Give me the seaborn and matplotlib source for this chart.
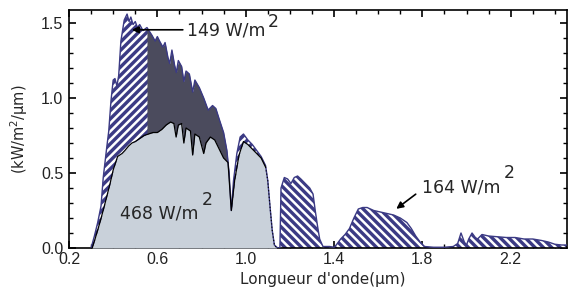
import numpy as np
import matplotlib
matplotlib.use("Agg")
import matplotlib.pyplot as plt
from matplotlib.ticker import MultipleLocator
import seaborn as sns

# ---------------- data ----------------
wl_top = [0.300, 0.315, 0.330, 0.345, 0.355, 0.370, 0.380, 0.390, 0.400, 0.408,
          0.417, 0.425, 0.435, 0.450, 0.463, 0.472, 0.480, 0.490, 0.500, 0.510,
          0.520, 0.535, 0.553, 0.575, 0.590, 0.600, 0.610, 0.625, 0.635, 0.648,
          0.656, 0.666, 0.678, 0.686, 0.695, 0.710, 0.720, 0.730, 0.745, 0.760,
          0.770, 0.790, 0.810, 0.830, 0.850, 0.865, 0.880, 0.900, 0.915, 0.925,
          0.935, 0.945, 0.960, 0.975, 0.990, 1.010, 1.030, 1.050, 1.070, 1.090,
          1.100, 1.110, 1.120, 1.130, 1.145, 1.155, 1.160, 1.175, 1.190, 1.205,
          1.220, 1.235, 1.250, 1.270, 1.290, 1.305, 1.315, 1.325, 1.335, 1.350,
          1.380, 1.400, 1.410, 1.430, 1.450, 1.470, 1.490, 1.510, 1.530, 1.550,
          1.580, 1.610, 1.640, 1.670, 1.700, 1.730, 1.750, 1.770, 1.790, 1.810,
          1.850, 1.900, 1.940, 1.960, 1.975, 1.990, 2.000, 2.010, 2.025, 2.040,
          2.050, 2.070, 2.100, 2.140, 2.180, 2.220, 2.260, 2.300, 2.340, 2.370,
          2.400, 2.430, 2.460]
irr_top = [0.00, 0.08, 0.17, 0.28, 0.47, 0.66, 0.78, 0.98, 1.12, 1.13,
           1.08, 1.15, 1.38, 1.52, 1.56, 1.51, 1.54, 1.49, 1.51, 1.47,
           1.49, 1.45, 1.47, 1.42, 1.38, 1.41, 1.38, 1.34, 1.37, 1.27,
           1.23, 1.32, 1.22, 1.17, 1.25, 1.21, 1.11, 1.18, 1.16, 1.04,
           1.12, 1.07, 1.00, 0.92, 0.95, 0.93, 0.86, 0.77, 0.65, 0.50,
           0.25, 0.45, 0.63, 0.74, 0.76, 0.72, 0.69, 0.65, 0.61, 0.55,
           0.45, 0.28, 0.12, 0.02, 0.00, 0.00, 0.40, 0.47, 0.46, 0.43,
           0.47, 0.48, 0.46, 0.43, 0.40, 0.36, 0.25, 0.15, 0.06, 0.01,
           0.01, 0.005, 0.02, 0.06, 0.09, 0.13, 0.20, 0.26, 0.27, 0.27,
           0.25, 0.24, 0.23, 0.22, 0.20, 0.17, 0.13, 0.08, 0.04, 0.01,
           0.005, 0.005, 0.01, 0.03, 0.10, 0.04, 0.02, 0.06, 0.10, 0.07,
           0.06, 0.09, 0.08, 0.075, 0.07, 0.07, 0.06, 0.06, 0.05, 0.04,
           0.025, 0.02, 0.02]

wl_in = [0.305, 0.320, 0.340, 0.360, 0.386, 0.400, 0.420, 0.440, 0.453, 0.470,
         0.485, 0.500, 0.520, 0.540, 0.560, 0.580, 0.600, 0.620, 0.640, 0.660,
         0.675, 0.685, 0.695, 0.710, 0.720, 0.730, 0.750, 0.760, 0.770, 0.790,
         0.810, 0.820, 0.840, 0.860, 0.880, 0.900, 0.920, 0.935, 0.950, 0.970,
         0.990, 1.010, 1.030, 1.050, 1.070, 1.090, 1.100, 1.110, 1.120, 1.130,
         1.140]
irr_in = [0.00, 0.07, 0.17, 0.28, 0.43, 0.52, 0.61, 0.63, 0.65, 0.68,
          0.70, 0.71, 0.73, 0.75, 0.76, 0.77, 0.77, 0.79, 0.82, 0.84,
          0.83, 0.74, 0.82, 0.83, 0.70, 0.80, 0.78, 0.62, 0.76, 0.74,
          0.63, 0.70, 0.74, 0.72, 0.66, 0.60, 0.57, 0.25, 0.45, 0.62,
          0.71, 0.69, 0.66, 0.63, 0.60, 0.54, 0.45, 0.28, 0.12, 0.02,
          0.00]

x_ticks = [0.2, 0.6, 1.0, 1.4, 1.8, 2.2]
y_ticks = [0.0, 0.5, 1.0, 1.5]
labels = {"top": "149 W/m", "inner": "468 W/m", "ir": "164 W/m"}

# ---------------- style ----------------
sns.set_theme(style="ticks")
plt.rcParams["font.family"] = ["DejaVu Sans"]
plt.rcParams["hatch.linewidth"] = 1.8

NAVY = "#3b3a84"
DARK = "#4b4b5d"
LIGHT = "#c9d1da"

fig = plt.figure(figsize=(5.77, 2.96), dpi=100)
ax = fig.add_axes([69 / 577, 1 - 248 / 296, 498 / 577, 238 / 296])

xt = np.array(wl_top)
yt = np.array(irr_top)
xi = np.array(wl_in)
yi = np.array(irr_in)

# hatched upper spectrum: "/" in visible part, "\" in infrared bands
vis = xt <= 1.15
ax.fill_between(xt[vis], 0, yt[vis], facecolor=NAVY, edgecolor="white",
                hatch="////", linewidth=0, zorder=1)
ir = xt >= 1.145
ax.fill_between(xt[ir], 0, yt[ir], facecolor=NAVY, edgecolor="white",
                hatch="\\\\\\\\", linewidth=0, zorder=1)

# dark grey band between the two curves (149 W/m2)
yi_on_top = np.interp(xt, xi, yi, left=0, right=0)
dark = (xt >= 0.545) & (xt <= 0.93)
ax.fill_between(xt[dark], yi_on_top[dark], yt[dark], facecolor=DARK,
                linewidth=0, zorder=2)

# light inner spectrum (468 W/m2)
ax.fill_between(xi, 0, yi, facecolor=LIGHT, linewidth=0, zorder=3)

# outlines
sns.lineplot(x=xt, y=yt, ax=ax, color=NAVY, linewidth=1.0, sort=False,
             estimator=None, zorder=4)
solid = xi <= 1.09
sns.lineplot(x=xi[solid], y=yi[solid], ax=ax, color="black", linewidth=0.9,
             sort=False, estimator=None, zorder=5)
dots = xi >= 1.09
ax.plot(xi[dots], yi[dots], color="black", linewidth=0.8, linestyle=(0, (1, 2)),
        zorder=5)

# ---------------- axes ----------------
ax.set_xlim(0.2, 2.455)
ax.set_ylim(0.0, 1.587)
ax.set_xticks(x_ticks)
ax.set_yticks(y_ticks)
ax.xaxis.set_minor_locator(MultipleLocator(0.1))
ax.yaxis.set_minor_locator(MultipleLocator(0.1))
ax.tick_params(which="both", direction="in", top=True, right=True,
               color="black", labelsize=11.5, labelcolor="#222222")
ax.tick_params(axis="y", pad=4)
ax.tick_params(axis="x", pad=3)
ax.tick_params(which="major", length=5, width=1.2)
ax.tick_params(which="minor", length=3, width=1.0)
ax.set_xticklabels([f"{v:.1f}" for v in x_ticks])
ax.set_yticklabels([f"{v:.1f}" for v in y_ticks])
for lab in ax.get_xticklabels() + ax.get_yticklabels():
    lab.set_family("Liberation Sans")
for sp in ax.spines.values():
    sp.set_linewidth(1.2)
    sp.set_color("black")
ax.set_facecolor("white")

ax.set_xlabel("Longueur d'onde(µm)", fontsize=11)
ax.xaxis.set_label_coords(0.51, -0.10)
ax.set_ylabel("(kW/m$^2$/µm)", fontsize=10.5)
ax.yaxis.set_label_coords(-0.078, 0.5)

# ---------------- annotations ----------------
fs = 12.5
ax.annotate("", xy=(0.472, 1.455), xytext=(0.728, 1.455),
            arrowprops=dict(arrowstyle="-|>", color="black", lw=1.2,
                            mutation_scale=10), zorder=6)
ax.text(0.735, 1.45, labels["top"], fontsize=fs, va="center", ha="left", zorder=6)
ax.text(1.10, 1.51, "2", fontsize=fs, va="center", ha="left", zorder=6)

ax.text(0.43, 0.23, labels["inner"], fontsize=fs, va="center", ha="left", zorder=6)
ax.text(0.80, 0.32, "2", fontsize=fs, va="center", ha="left", zorder=6)

ax.annotate("", xy=(1.672, 0.25), xytext=(1.78, 0.37),
            arrowprops=dict(arrowstyle="-|>", color="black", lw=1.2,
                            mutation_scale=10), zorder=6)
ax.text(1.80, 0.405, labels["ir"], fontsize=fs, va="center", ha="left", zorder=6)
ax.text(2.17, 0.50, "2", fontsize=fs, va="center", ha="left", zorder=6)

fig.savefig("out.png", dpi=100)
